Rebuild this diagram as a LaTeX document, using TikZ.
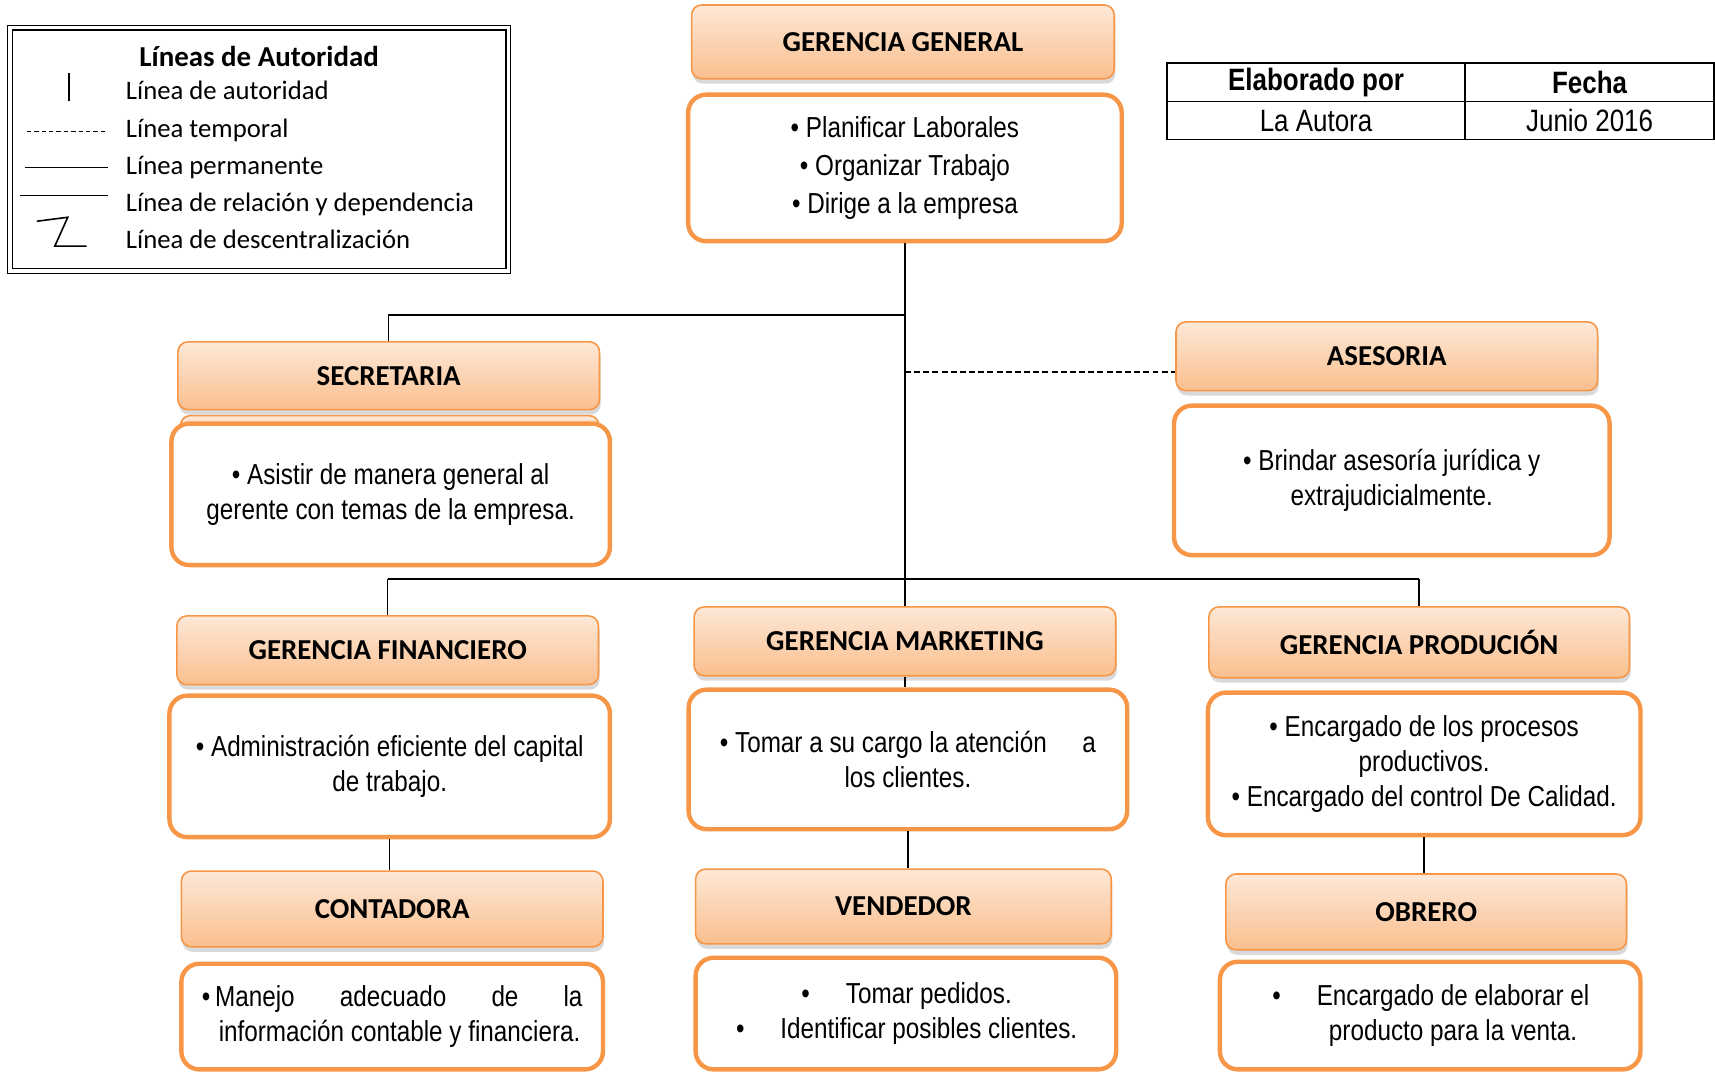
\documentclass[tikz,border=0pt]{standalone}
\usepackage{fontspec}
\setmainfont{Carlito}
\newfontfamily\angosta[FakeStretch=0.84]{Liberation Sans}
\usetikzlibrary{shadows}

\definecolor{naranja}{HTML}{F79646}
\definecolor{durazno}{HTML}{FDE8D7}
\definecolor{salmon}{HTML}{FABF8E}

\begin{document}
\begin{tikzpicture}[
                x=0.5pt, y=-0.5pt,                % 1 unidad = 1 px de la imagen
                tam/.style 2 args={minimum width=#1*0.5pt, minimum height=#2*0.5pt},
                cargo/.style={
                    rectangle,
                    rounded corners=5pt,
                    draw=naranja,
                    line width=0.8pt,
                    top color=durazno,
                    bottom color=salmon,
                    drop shadow={opacity=0.3, shadow xshift=0.6pt, shadow yshift=-2.5pt},
                    font=\bfseries\fontsize{14.5}{17}\selectfont,
                    inner sep=0pt
                },
                funcion/.style={
                    rectangle,
                    rounded corners=9pt,
                    draw=naranja,
                    line width=2.2pt,
                    fill=white,
                    font=\angosta\fontsize{14.5}{17.5}\selectfont,
                    align=center,
                    inner sep=0pt
                },
                celda/.style={draw, line width=0.8pt, inner sep=0pt,
                    font=\angosta\fontsize{15.5}{17}\selectfont},
                leyenda/.style={font=\fontsize{13.4}{16}\selectfont, inner sep=0pt},
                linea/.style={line width=0.8pt},
                temporal/.style={line width=0.8pt, dash pattern=on 3pt off 1.6pt}
            ]
                % leyenda
                \node[draw, double, double distance=1.6pt, line width=0.6pt, tam={500}{244}] (ley) at (260,150) {};
                \node[leyenda, font=\bfseries\fontsize{14.5}{17}\selectfont, anchor=base] (leyt) at (260,67) {Líneas de Autoridad};
                \node[leyenda, anchor=base west] (ley1) at (126,100) {Línea de autoridad};
                \node[leyenda, anchor=base west] (ley2) at (126,138) {Línea temporal};
                \node[leyenda, anchor=base west] (ley3) at (126,175) {Línea permanente};
                \node[leyenda, anchor=base west] (ley4) at (126,212) {Línea de relación y dependencia};
                \node[leyenda, anchor=base west] (ley5) at (126,249) {Línea de descentralización};
                \draw[linea] (69,73) -- (69,101);
                \draw[line width=0.7pt, dash pattern=on 2.2pt off 1.5pt] (27,132) -- (108,132);
                \draw[linea] (25,168) -- (108,168);
                \draw[linea] (20,196) -- (108,196);
                \draw[linea] (37,222) -- (68,218) -- (55,247) -- (87,247);

                % tabla
                \node[celda, tam={299}{39}, font=\angosta\bfseries\fontsize{15.5}{17}\selectfont] (elab) at (1320.5,82.5) {Elaborado por};
                \node[celda, tam={250}{39}, font=\angosta\bfseries\fontsize{15.5}{17}\selectfont] (fecha) at (1595,82.5) {Fecha};
                \node[celda, tam={299}{38}] (autora) at (1320.5,121) {La Autora};
                \node[celda, tam={250}{38}] (junio) at (1595,121) {Junio 2016};

                % nodos
                \node[cargo, tam={424}{74}] (gg) at (906,42) {GERENCIA GENERAL};
                \node[funcion, tam={435}{147}, font=\angosta\fontsize{14.5}{19}\selectfont] (ggf) at (908,168.5)
                    {\textbullet\ Planificar Laborales\\ \textbullet\ Organizar Trabajo\\ \textbullet\ Dirige a la empresa};

                \node[cargo, tam={423}{68}] (sec) at (390,377) {SECRETARIA};
                \node[cargo, tam={420}{40}] (secfondo) at (391,437) {};
                \node[funcion, tam={440}{142}] (secf) at (392,496)
                    {\textbullet\ Asistir de manera general al\\ gerente con temas de la empresa.};

                \node[cargo, tam={423}{69}] (ase) at (1391.5,357.5) {ASESORIA};
                \node[funcion, tam={437}{150}] (asef) at (1396.5,482)
                    {\textbullet\ Brindar asesoría jurídica y\\ extrajudicialmente.};

                \node[cargo, tam={423}{69}] (fin) at (389,652.5) {GERENCIA FINANCIERO};
                \node[funcion, tam={442}{142}] (finf) at (391,769)
                    {\textbullet\ Administración eficiente del capital\\ de trabajo.};

                \node[cargo, tam={423}{69}] (mkt) at (908,643.5) {GERENCIA MARKETING};
                \node[funcion, tam={440}{140}] (mktf) at (911,762)
                    {\textbullet\ Tomar a su cargo la atención \quad a\\ los clientes.};

                \node[cargo, tam={422}{71}] (prod) at (1424,644.5) {GERENCIA PRODUCIÓN};
                \node[funcion, tam={434}{143}] (prodf) at (1429,766.5)
                    {\textbullet\ Encargado de los procesos\\ productivos.\\ \textbullet\ Encargado del control De Calidad.};

                \node[cargo, tam={423}{76}] (cont) at (393.5,912) {CONTADORA};
                \node[funcion, tam={423}{106}, align=left] (contf) at (393.5,1020)
                    {\hbox to 191pt{\textbullet\,Manejo\hfill adecuado\hfill de\hfill la}\\
                     \hspace*{8.5pt}información contable y financiera.};

                \node[cargo, tam={417}{75}] (vend) at (906.5,909.5) {VENDEDOR};
                \node[funcion, tam={422}{112}] (vendf) at (909,1017)
                    {\hspace*{23pt}\llap{\textbullet\hspace{18pt}}Tomar pedidos.\\
                     \hspace*{23pt}\llap{\textbullet\hspace{18pt}}Identificar posibles clientes.};

                \node[cargo, tam={402}{76}] (obr) at (1431,915) {OBRERO};
                \node[funcion, tam={422}{108}] (obrf) at (1435,1019)
                    {\hspace*{23pt}\llap{\textbullet\hspace{18pt}}Encargado de elaborar el\\
                     \hspace*{23pt}producto para la venta.};

                % líneas
                \coordinate (jsec) at (908,316);
                \coordinate (jase) at (908,373);
                \coordinate (jbar) at (908,581);
                \draw[linea] (ggf.south) -- (mkt.north);
                \draw[linea] (jsec) -| (sec.north);
                \draw[temporal] (jase) -- (jase -| ase.west);
                \draw[linea] (jbar -| fin.north) -- (jbar -| prod.north);
                \draw[linea] (jbar -| fin.north) -- (fin.north);
                \draw[linea] (jbar -| prod.north) -- (prod.north);
                \draw[linea] (mkt.south) -- (mkt.south |- mktf.north);
                \draw[linea] (finf.south) -- (finf.south |- cont.north);
                \draw[linea] (mktf.south) -- (mktf.south |- vend.north);
                \draw[linea] (prodf.south) -- (prodf.south |- obr.north);

                \useasboundingbox (0,0) rectangle (1715,1075);
            \end{tikzpicture}
\end{document}
